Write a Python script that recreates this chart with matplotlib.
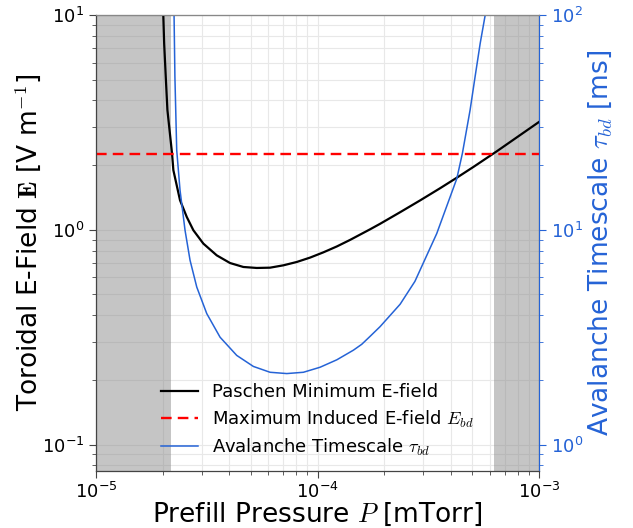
import matplotlib as mpl
mpl.use('Agg')
import matplotlib.pyplot as plt
from matplotlib.ticker import LogLocator, NullFormatter

mpl.rcParams['mathtext.fontset'] = 'cm'
mpl.rcParams['axes.unicode_minus'] = False

# Paschen minimum E-field [V/m] vs prefill pressure [mTorr]
paschen_p = [1.98e-5, 2.012e-5, 2.03e-5, 2.064e-5, 2.10e-5, 2.203e-5,
             2.234e-5, 2.394e-5, 2.568e-5, 2.750e-5, 3.051e-5, 3.507e-5,
             4.027e-5, 4.624e-5, 5.314e-5, 6.103e-5, 7.007e-5, 8.054e-5,
             9.250e-5, 1.062e-4, 1.221e-4, 1.402e-4, 1.726e-4, 1.915e-4,
             2.358e-4, 2.903e-4, 3.573e-4, 4.249e-4, 5.050e-4, 6.442e-4,
             1.0e-3]
paschen_e = [11.0, 10.0, 7.38, 5.16, 3.61, 2.27,
             1.894, 1.372, 1.147, 0.995, 0.862, 0.760,
             0.700, 0.671, 0.664, 0.666, 0.683, 0.708,
             0.742, 0.785, 0.836, 0.897, 1.005, 1.066,
             1.207, 1.370, 1.561, 1.747, 1.961, 2.320,
             3.18]

# avalanche timescale [ms]
tau_p = [2.24e-5, 2.25e-5, 2.27e-5, 2.313e-5, 2.394e-5, 2.522e-5, 2.657e-5,
         2.849e-5, 3.161e-5, 3.630e-5, 4.316e-5, 5.131e-5, 6.103e-5,
         7.261e-5, 8.629e-5, 1.026e-4, 1.221e-4, 1.451e-4, 1.583e-4,
         1.726e-4, 1.915e-4, 2.358e-4, 2.75e-4, 3.45e-4, 4.25e-4, 4.505e-4,
         4.88e-4, 5.14e-4, 5.42e-4, 5.71e-4, 5.80e-4]
tau_ms = [115.0, 100.0, 51.6, 23.5, 15.3, 9.95, 7.21,
          5.41, 4.07, 3.16, 2.60, 2.31, 2.17,
          2.14, 2.17, 2.29, 2.48, 2.75, 2.93,
          3.19, 3.54, 4.50, 5.75, 9.60, 17.3, 22.7,
          36.1, 51.6, 73.8, 100.0, 112.0]

max_induced_e = 2.26
excluded = [(1e-5, 2.18e-5), (6.26e-4, 1e-3)]

blue = '#2563d6'

fig = plt.figure(figsize=(6.33, 5.28), dpi=100)
ax = fig.add_axes([0.1517, 0.1089, 0.70, 0.8627])
ax2 = ax.twinx()

for lo, hi in excluded:
    ax.axvspan(lo, hi, color='gray', alpha=0.45, lw=0, zorder=1)

l1, = ax.plot(paschen_p, paschen_e, color='black', lw=1.6, zorder=3,
              label='Paschen Minimum E-field')
l2 = ax.axhline(max_induced_e, color='red', lw=1.7, dashes=(4.5, 2.6),
                zorder=3, label=r'Maximum Induced E-field $E_{bd}$')
l3, = ax2.plot(tau_p, tau_ms, color=blue, lw=1.1,
               label=r'Avalanche Timescale $\tau_{bd}$')

ax.set_xscale('log')
ax.set_yscale('log')
ax2.set_yscale('log')
ax.set_xlim(1e-5, 1e-3)
ax.set_ylim(0.0757, 10)
ax2.set_ylim(0.757, 100)

ax.grid(True, which='both', color='#e8e8e8', lw=0.8, zorder=0)
ax.set_axisbelow(True)

ax.tick_params(which='both', labelsize=13, color='#444444')
ax.tick_params(which='major', length=5)
ax.tick_params(which='minor', length=3)
ax2.tick_params(which='both', labelsize=13, colors=blue)
ax2.tick_params(which='major', length=5)
ax2.tick_params(which='minor', length=3)
for a in (ax, ax2):
    a.yaxis.set_minor_locator(LogLocator(subs=range(2, 10)))
    a.yaxis.set_minor_formatter(NullFormatter())
ax.xaxis.set_minor_formatter(NullFormatter())

for side in ('left', 'bottom'):
    ax2.spines[side].set_color('#444444')
ax2.spines['top'].set_color('#888888')
ax2.spines['right'].set_color(blue)

ax.set_xlabel(r'Prefill Pressure $P$ [mTorr]', fontsize=19, labelpad=-1)
ax.set_ylabel(r'Toroidal E-Field $\mathbf{E}$ [V m$^{-1}$]', fontsize=19,
              labelpad=-1)
ax2.set_ylabel(r'Avalanche Timescale $\tau_{bd}$ [ms]', fontsize=19,
               color=blue, labelpad=2)

ax2.legend([l1, l2, l3], [h.get_label() for h in (l1, l2, l3)],
           loc='lower center', frameon=False, fontsize=13,
           borderaxespad=0.3, labelspacing=0.4)

fig.savefig('out.png', dpi=100)
plt.close()
